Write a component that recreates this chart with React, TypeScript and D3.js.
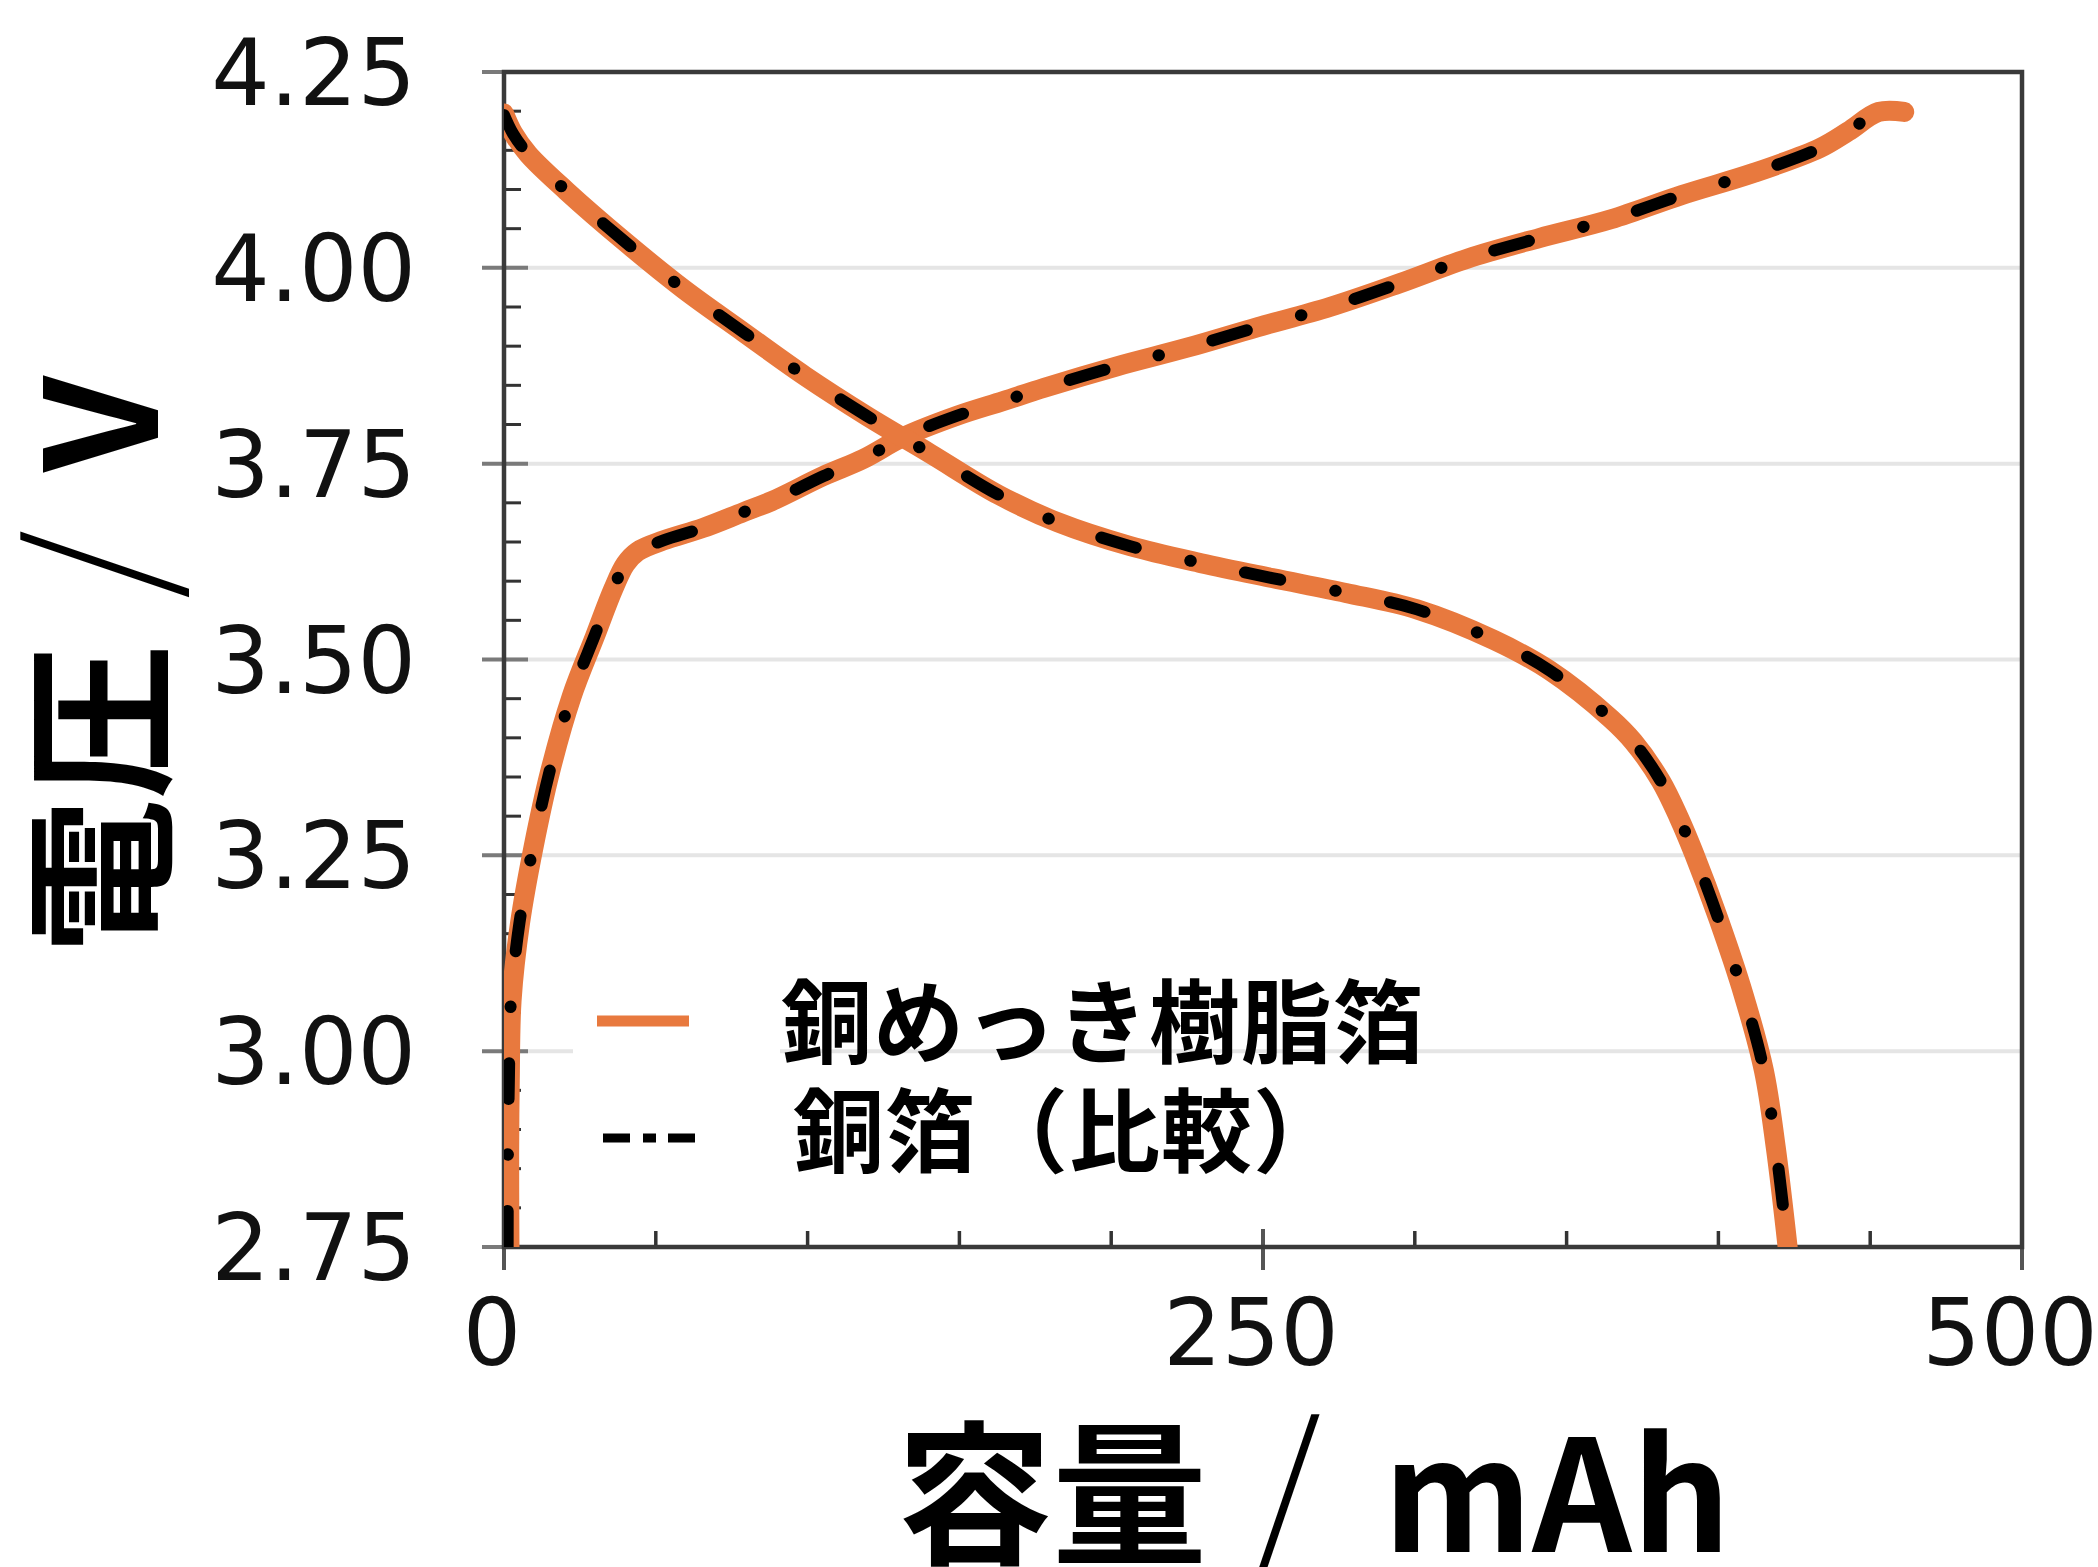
import React from 'react'
import * as d3 from 'd3'

// axis ticks
const yMajor = [2.75, 3.0, 3.25, 3.5, 3.75, 4.0, 4.25]
const yLabels = ['2.75', '3.00', '3.25', '3.50', '3.75', '4.00', '4.25']
const xMajor = [0, 250, 500]
const xLabels = ['0', '250', '500']
const xMinor = [50, 100, 150, 200, 300, 350, 400, 450]

const seriesNames = ['銅めっき樹脂箔', '銅箔（比較）']

// [capacity mAh, voltage V]
const platedCharge: [number, number][] = [
  [1.8, 2.75], [1.7, 2.87], [1.9, 2.96], [2.5, 3.065], [5.3, 3.164], [9.7, 3.26],
  [15.2, 3.357], [22.3, 3.453], [30, 3.53], [36, 3.59], [40, 3.622], [44, 3.638],
  [52.5, 3.652], [65.6, 3.668], [78.8, 3.688], [88.1, 3.702], [105.1, 3.734],
  [118.3, 3.756], [131.5, 3.784], [149.1, 3.811], [164.5, 3.83], [178, 3.847],
  [201.6, 3.874], [225, 3.898], [248, 3.924], [272, 3.95], [294.8, 3.98],
  [317.5, 4.012], [341, 4.038], [364.6, 4.062], [388, 4.093], [411.5, 4.121],
  [433.5, 4.153], [442.7, 4.174], [452.8, 4.199], [461.2, 4.199]
]
const platedDischarge: [number, number][] = [
  [0, 4.197], [3, 4.172], [8, 4.145], [20.6, 4.098], [39.3, 4.035], [59.1, 3.973],
  [78.8, 3.918], [99.1, 3.862], [119.5, 3.811], [140.3, 3.763], [163, 3.71],
  [182.5, 3.675], [206, 3.645], [229.6, 3.623], [253, 3.604], [277.3, 3.585],
  [300.7, 3.564], [326, 3.525], [344.4, 3.486], [364.4, 3.425], [372, 3.395],
  [381, 3.345], [387, 3.298], [392, 3.252], [400, 3.169], [408.3, 3.072],
  [415, 2.975], [418.9, 2.877], [422.8, 2.75]
]
const foilCharge: [number, number][] = [
  [1.2, 2.75], [1.3, 2.87], [1.6, 2.96], [2.3, 3.065], [5.1, 3.164], [9.5, 3.26],
  [15, 3.357], [22.1, 3.453], [29.8, 3.53], [35.9, 3.59], [40, 3.622], [44, 3.638],
  [52.5, 3.652], [65.6, 3.668], [78.8, 3.688], [88.1, 3.702], [105.1, 3.734],
  [118.3, 3.756], [131.5, 3.784], [149.1, 3.811], [164.5, 3.83], [178, 3.847],
  [201.6, 3.874], [225, 3.898], [248, 3.924], [272, 3.95], [294.8, 3.98],
  [317.5, 4.012], [341, 4.038], [364.6, 4.062], [388, 4.093], [411.5, 4.121],
  [433.5, 4.153], [442.7, 4.174], [452.8, 4.199], [458, 4.199]
]
const foilDischarge: [number, number][] = [
  [0, 4.195], [3, 4.171], [8, 4.145], [20.6, 4.098], [39.3, 4.035], [59.1, 3.973],
  [78.8, 3.918], [99.1, 3.862], [119.5, 3.811], [140.3, 3.763], [163, 3.71],
  [182.5, 3.675], [206, 3.645], [229.6, 3.623], [253, 3.604], [277.3, 3.585],
  [300.7, 3.564], [326, 3.525], [344.4, 3.486], [364.4, 3.425], [372, 3.395],
  [381, 3.345], [387, 3.298], [392, 3.252], [400, 3.169], [408.3, 3.072],
  [415, 2.975], [418.9, 2.877], [422.8, 2.75]
]

const orange = '#e8793e'
const cjk = '"Noto Sans CJK JP", sans-serif'
const num = '"DejaVu Sans", sans-serif'

const App = () => {
  const left = 504, right = 2022, top = 72, bottom = 1247

  const x = d3.scaleLinear().domain([0, 500]).range([left, right])
  const y = d3.scaleLinear().domain([2.75, 4.25]).range([bottom, top])

  const line = d3.line<[number, number]>()
    .x(d => x(d[0]))
    .y(d => y(d[1]))
    .curve(d3.curveCatmullRom.alpha(0.5))

  // minor y ticks every 0.05 V
  const yMinor = d3.range(0, 31).map(i => 2.75 + i * 0.05)
    .filter(v => !yMajor.some(m => Math.abs(m - v) < 1e-6))

  return (
    <svg width={2098} height={1567} style={{position: 'absolute', left: 0, top: 0, background: '#fff'}}>
      <defs>
        <clipPath id="plot">
          <rect x={left} y={top} width={right - left} height={bottom - top}/>
        </clipPath>
      </defs>

      {/* grid */}
      {yMajor.slice(1, -1).map(v =>
        <line key={'g' + v} x1={left} x2={right} y1={y(v)} y2={y(v)} stroke="#e5e5e5" strokeWidth={4}/>
      )}

      {/* white box behind legend samples */}
      <rect x={573} y={985} width={207} height={190} fill="#fff"/>

      {/* ticks */}
      {yMinor.map(v =>
        <line key={'ym' + v} x1={left} x2={left + 17} y1={y(v)} y2={y(v)} stroke="#333" strokeWidth={3}/>
      )}
      {yMajor.map(v =>
        <line key={'yM' + v} x1={left - 22} x2={left + 24} y1={y(v)} y2={y(v)} stroke="#7a7a7a" strokeWidth={4}/>
      )}
      {xMinor.map(v =>
        <line key={'xm' + v} x1={x(v)} x2={x(v)} y1={bottom} y2={bottom - 16} stroke="#333" strokeWidth={3.5}/>
      )}
      {xMajor.map(v =>
        <line key={'xM' + v} x1={x(v)} x2={x(v)} y1={bottom - 18} y2={bottom + 23} stroke="#555" strokeWidth={4}/>
      )}

      {/* frame */}
      <rect x={left} y={top} width={right - left} height={bottom - top} fill="none" stroke="#3a3a3a" strokeWidth={4.5}/>

      {/* curves */}
      <g clipPath="url(#plot)" fill="none">
        {[platedCharge, platedDischarge].map((d, i) =>
          <path key={'o' + i} d={line(d) || ''} stroke={orange} strokeWidth={20} strokeLinecap="round" strokeLinejoin="round"/>
        )}
        {[foilCharge, foilDischarge].map((d, i) =>
          <path key={'k' + i} d={line(d) || ''} stroke="#000" strokeWidth={12} strokeLinecap="round"
            strokeDasharray="36 56 0.5 55.5"/>
        )}
      </g>

      {/* tick labels */}
      {yMajor.map((v, i) =>
        <text key={'yl' + v} x={416} y={y(v)} dy="0.36em" textAnchor="end"
          fontFamily={num} fontSize={92} fill="#111">{yLabels[i]}</text>
      )}
      {xMajor.map((v, i) =>
        <text key={'xl' + v} x={x(v) - 12} y={1365} textAnchor="middle"
          fontFamily={num} fontSize={92} fill="#111">{xLabels[i]}</text>
      )}

      {/* legend */}
      <line x1={597} x2={689} y1={1021} y2={1021} stroke={orange} strokeWidth={11}/>
      <line x1={603} x2={695} y1={1138} y2={1138} stroke="#000" strokeWidth={9} strokeDasharray="27 13 13 12 27"/>
      <text x={781} y={1056} fontFamily={cjk} fontWeight={700} fontSize={91} letterSpacing={1} fill="#000">{seriesNames[0]}</text>
      <text x={793} y={1165} fontFamily={cjk} fontWeight={700} fontSize={91} letterSpacing={1} fill="#000">{seriesNames[1]}</text>

      {/* axis titles */}
      <text x={897} y={1552} fontFamily={cjk} fontWeight={700} fontSize={155} fill="#000">
        容量<tspan dx={45} fontSize={175} fontWeight={300}>/</tspan><tspan dx={62}>mAh</tspan>
      </text>
      <text transform="translate(158,954) rotate(-90)" fontFamily={cjk} fontWeight={700} fontSize={155} fill="#000">
        電圧<tspan dx={45} fontSize={175} fontWeight={300}>/</tspan><tspan dx={58}>V</tspan>
      </text>
    </svg>
  )
}

export default App
